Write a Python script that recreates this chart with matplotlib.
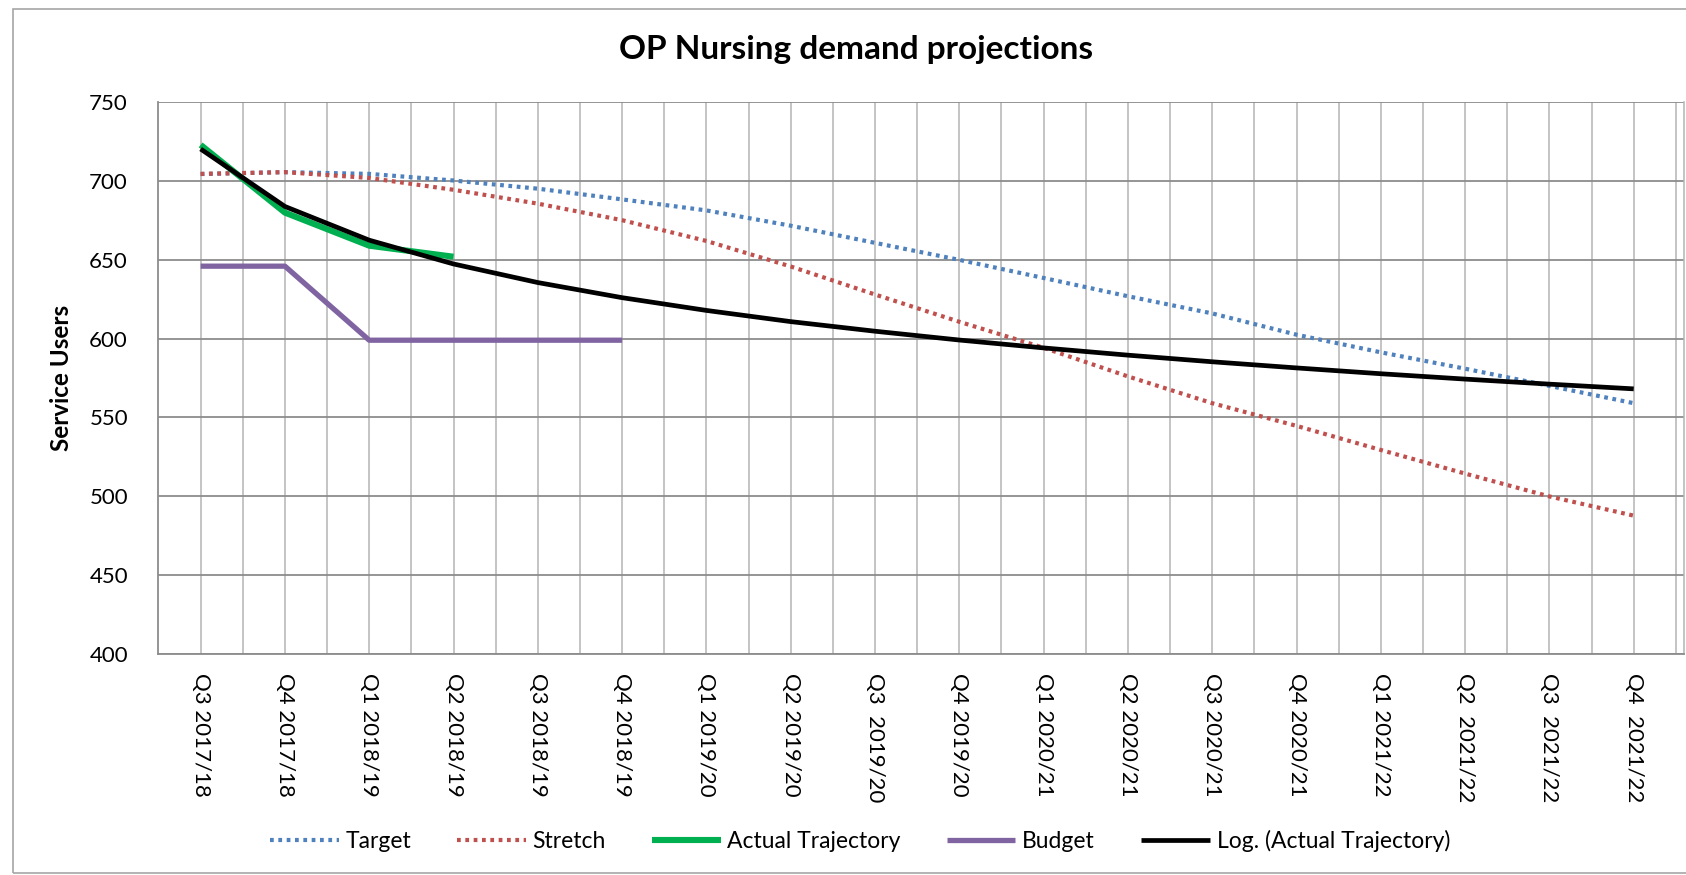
import matplotlib
matplotlib.use("Agg")
import matplotlib.pyplot as plt
from matplotlib.patches import Rectangle
from matplotlib.ticker import MultipleLocator

plt.rcParams["font.family"] = ["Lato", "DejaVu Sans"]

quarters = [
    "Q3 2017/18", "Q4 2017/18", "Q1 2018/19", "Q2 2018/19", "Q3 2018/19",
    "Q4 2018/19", "Q1 2019/20", "Q2 2019/20", "Q3  2019/20", "Q4 2019/20",
    "Q1 2020/21", "Q2 2020/21", "Q3 2020/21", "Q4 2020/21", "Q1 2021/22",
    "Q2  2021/22", "Q3  2021/22", "Q4  2021/22",
]

target = [704.5, 705.7, 704.6, 700.4, 695.2, 688.4, 681.4, 671.7, 660.8,
          650.0, 638.5, 626.9, 616.0, 602.5, 591.3, 580.9, 570.0, 559.0]
stretch = [704.6, 705.7, 702.0, 694.5, 685.7, 675.2, 662.0, 645.8, 628.0,
           610.7, 594.2, 576.0, 559.0, 544.6, 529.3, 514.3, 499.8, 487.6]
actual = [723, 680, 659, 652]
budget = [646, 646, 599, 599, 599, 599]
log_actual = [720.4, 683.9, 662.5, 647.4, 635.6, 626.0, 617.9, 610.8, 604.7,
              599.1, 594.1, 589.5, 585.3, 581.4, 577.7, 574.3, 571.1, 568.1]

colors = {
    "target": "#4F81BD",
    "stretch": "#C0504D",
    "actual": "#00B050",
    "budget": "#8064A2",
    "log": "#000000",
}

fig = plt.figure(figsize=(16.86, 8.75), dpi=100)
ax = fig.add_axes([0.094, 0.253, 0.905, 0.630])

fig.patches.append(Rectangle((0.0077, 0.0025), 1.1, 0.9875, transform=fig.transFigure,
                             fill=False, edgecolor="#a6a6a6", linewidth=1.2))

x_all = list(range(len(quarters)))
dot = (0, (0.9, 1.1))

ax.plot(x_all, target, color=colors["target"], linewidth=3, linestyle=dot, label="Target", zorder=3)
ax.plot(x_all, stretch, color=colors["stretch"], linewidth=3, linestyle=dot, label="Stretch", zorder=3)
ax.plot(x_all[:len(actual)], actual, color=colors["actual"], linewidth=4.4,
        label="Actual Trajectory", zorder=4, solid_capstyle="butt")
ax.plot(x_all[:len(budget)], budget, color=colors["budget"], linewidth=3.8,
        label="Budget", zorder=4, solid_capstyle="butt")
ax.plot(x_all, log_actual, color=colors["log"], linewidth=3.4,
        label="Log. (Actual Trajectory)", zorder=5, solid_capstyle="butt")

ax.set_xlim(-0.5, len(quarters) - 0.4)
ax.set_ylim(400, 750)
ax.yaxis.set_major_locator(MultipleLocator(50))
ax.set_xticks(x_all)
ax.set_xticklabels(quarters, rotation=-90, fontsize=16, va="top", ha="center")
ax.set_xticks([i + 0.5 for i in x_all], minor=True)
ax.tick_params(axis="x", which="both", length=0, pad=14)
ax.tick_params(axis="y", length=0, pad=22, labelsize=16)

ax.grid(axis="y", color="#8c8c8c", linewidth=1.3)
ax.grid(axis="x", which="both", color="#b4b4b4", linewidth=1.1)
ax.set_axisbelow(True)

ax.spines["top"].set_visible(False)
ax.spines["right"].set_color("#b4b4b4")
ax.spines["right"].set_linewidth(1.1)
ax.spines["left"].set_color("#8c8c8c")
ax.spines["bottom"].set_color("#8c8c8c")
ax.spines["left"].set_linewidth(1.3)
ax.spines["bottom"].set_linewidth(1.3)

ax.set_ylabel("Service Users", fontsize=17.5, fontweight="bold")
ax.yaxis.set_label_coords(-0.056, 0.5)

fig.text(0.508, 0.943, "OP Nursing demand projections", fontsize=24,
         fontweight="bold", ha="center", va="center")

fig.legend(loc="center", bbox_to_anchor=(0.51, 0.039), ncol=5, frameon=False,
           fontsize=16.5, handlelength=3.0, columnspacing=2.0, handletextpad=0.3)

fig.savefig("out.png", dpi=100)
